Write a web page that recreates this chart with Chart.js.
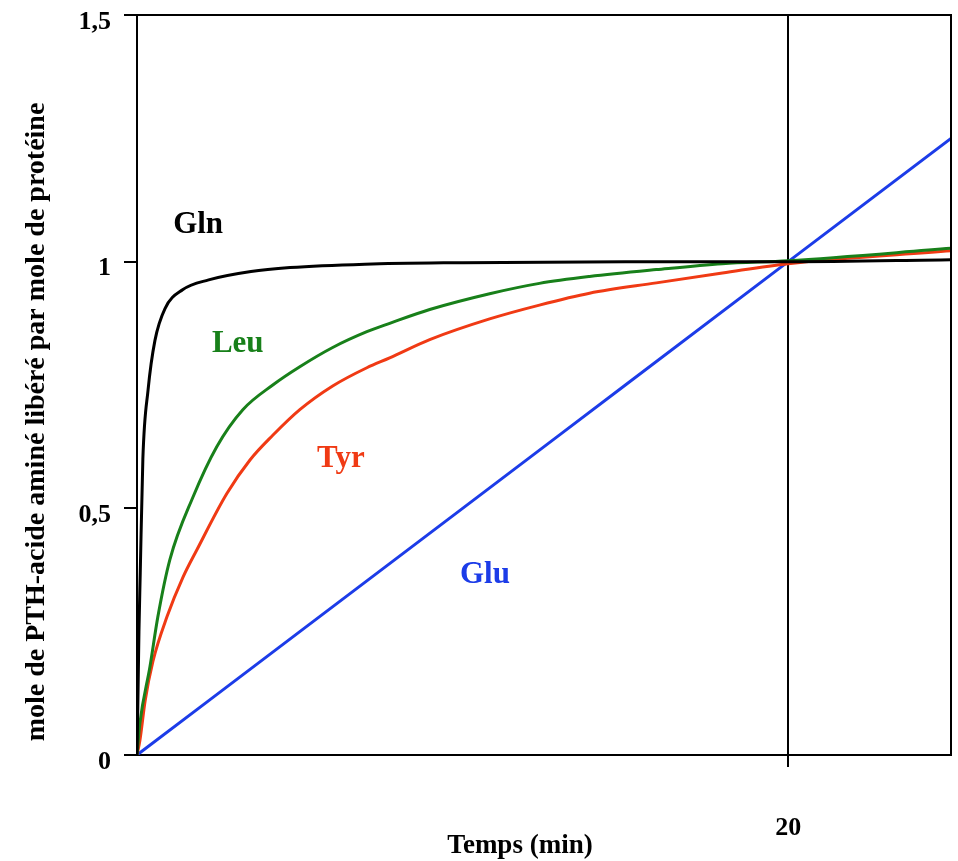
<!DOCTYPE html>
<html>
<head>
<meta charset="utf-8">
<script src="https://cdn.jsdelivr.net/npm/chart.js@4/dist/chart.umd.min.js"></script>
<style>
html,body{margin:0;padding:0;background:#fff;}
#wrap{width:958px;height:861px;position:relative;}
</style>
</head>
<body>
<div id="wrap"><canvas id="c" width="958" height="861"></canvas></div>
<script>
// ---- data ----
const glnT = [0, 0.03, 0.06, 0.1, 0.18, 0.34, 0.55, 0.86, 1.4, 2.2, 3.5, 4.7, 7.0, 10, 15, 20, 25];
const glnY = [0, 0.12, 0.25, 0.37, 0.6, 0.74, 0.84, 0.905, 0.943, 0.963, 0.98, 0.988, 0.995, 0.998, 1.0, 1.0, 1.004];

const leuT = [0, 0.09, 0.4, 0.64, 1.01, 1.72, 2.45, 3.25, 4.17, 5.0, 6.01, 7.06, 7.76, 8.99, 10.83, 12.36, 13.9, 15.95, 17.98, 20, 25];
const leuY = [0, 0.065, 0.18, 0.28, 0.396, 0.523, 0.625, 0.70, 0.75, 0.787, 0.826, 0.858, 0.875, 0.903, 0.935, 0.956, 0.970, 0.984, 0.996, 1.002, 1.027];

const tyrT = [0, 0.09, 0.25, 0.49, 0.92, 1.41, 1.84, 2.76, 3.47, 4.17, 5.0, 6.01, 7.06, 7.76, 8.99, 10.83, 12.36, 13.9, 15.95, 17.98, 20, 25];
const tyrY = [0, 0.03, 0.11, 0.19, 0.28, 0.36, 0.416, 0.53, 0.598, 0.648, 0.70, 0.748, 0.785, 0.805, 0.842, 0.884, 0.912, 0.936, 0.957, 0.977, 0.996, 1.022];

const gluT = [0, 5, 10, 15, 20, 25];
const gluY = [0, 0.25, 0.5, 0.75, 1.0, 1.25];

const seriesNames = ['Gln', 'Leu', 'Tyr', 'Glu'];
const seriesColors = ['#000000', '#18801a', '#f03a14', '#1c3ce8'];
// label anchor (data coords) for each curve name
const labelT = [1.11, 2.30, 5.53, 9.92];
const labelY = [1.059, 0.817, 0.584, 0.349];

const yTicks = [0, 0.5, 1, 1.5];
const xTicks = [20];
const xTitle = 'Temps (min)';
const yTitle = 'mole de PTH-acide aminé libéré par mole de protéine';

function pts(t, y) { return t.map((v, i) => ({x: v, y: y[i]})); }
const allData = [pts(glnT, glnY), pts(leuT, leuY), pts(tyrT, tyrY), pts(gluT, gluY)];

const SERIF = '"Liberation Serif", "DejaVu Serif", serif';

const boxPlugin = {
  id: 'boxAndLabels',
  afterDraw(chart) {
    const ctx = chart.ctx, a = chart.chartArea;
    const xs = chart.scales.x, ys = chart.scales.y;
    ctx.save();
    // top & right frame
    ctx.strokeStyle = '#000';
    ctx.lineWidth = 2;
    ctx.beginPath();
    ctx.moveTo(a.left, a.top);
    ctx.lineTo(a.right, a.top);
    ctx.lineTo(a.right, a.bottom);
    ctx.stroke();
    // curve names
    ctx.font = 'bold 31px ' + SERIF;
    ctx.textAlign = 'left';
    ctx.textBaseline = 'alphabetic';
    seriesNames.forEach((n, i) => {
      ctx.fillStyle = seriesColors[i];
      ctx.fillText(n, xs.getPixelForValue(labelT[i]), ys.getPixelForValue(labelY[i]));
    });
    // axis titles
    ctx.fillStyle = '#000';
    ctx.font = 'bold 27px ' + SERIF;
    ctx.textAlign = 'center';
    ctx.textBaseline = 'middle';
    ctx.fillText(xTitle, 520, 846);
    ctx.save();
    ctx.translate(37, 422);
    ctx.rotate(-Math.PI / 2);
    ctx.font = 'bold 28px ' + SERIF;
    ctx.fillText(yTitle, 0, 0);
    ctx.restore();
    ctx.restore();
  }
};

new Chart(document.getElementById('c'), {
  type: 'line',
  data: {
    datasets: allData.map((d, i) => ({
      label: seriesNames[i],
      data: d,
      borderColor: seriesColors[i],
      backgroundColor: seriesColors[i],
      borderWidth: 3,
      pointRadius: 0,
      cubicInterpolationMode: 'monotone',
      fill: false
    }))
  },
  options: {
    responsive: false,
    animation: false,
    layout: {padding: {left: 0, top: 15, right: 7, bottom: 0}},
    plugins: {legend: {display: false}, tooltip: {enabled: false}},
    scales: {
      x: {
        type: 'linear',
        min: 0, max: 25,
        afterBuildTicks: s => { s.ticks = xTicks.map(v => ({value: v})); },
        afterFit: s => { s.height = 106; s.paddingLeft = 0; s.paddingRight = 0; },
        ticks: {
          color: '#000',
          font: {family: SERIF, size: 26, weight: 'bold'},
          padding: 46,
          maxRotation: 0,
          callback: v => String(v)
        },
        grid: {color: '#000', lineWidth: 2, drawOnChartArea: true, drawTicks: true, tickLength: 12},
        border: {display: true, color: '#000', width: 2}
      },
      y: {
        type: 'linear',
        min: 0, max: 1.5,
        afterBuildTicks: s => { s.ticks = yTicks.map(v => ({value: v})); },
        afterFit: s => { s.width = 137; s.paddingTop = 0; s.paddingBottom = 0; },
        ticks: {
          color: '#000',
          font: {family: SERIF, size: 26, weight: 'bold'},
          padding: 13,
          labelOffset: 7,
          callback: v => String(v).replace('.', ',')
        },
        grid: {color: '#000', lineWidth: 2, drawOnChartArea: false, drawTicks: true, tickLength: 13},
        border: {display: true, color: '#000', width: 2}
      }
    }
  },
  plugins: [boxPlugin]
});
</script>
</body>
</html>
